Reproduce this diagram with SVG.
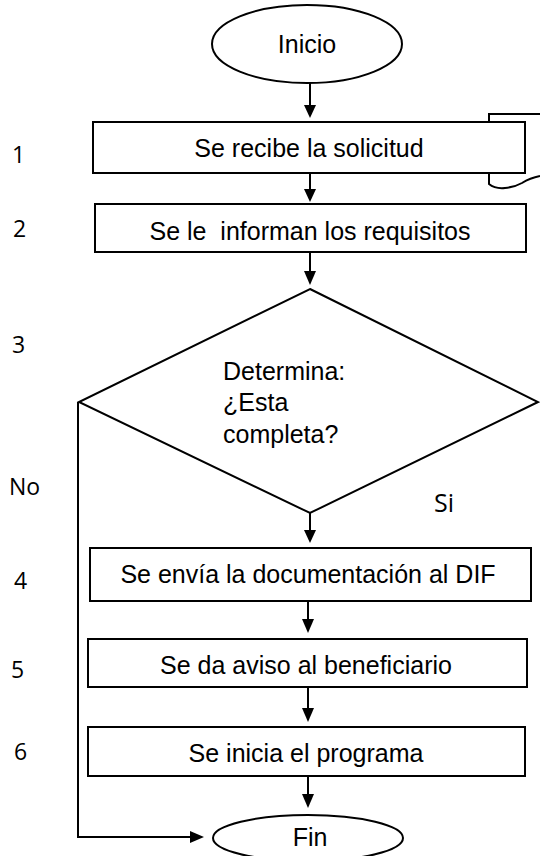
<svg xmlns="http://www.w3.org/2000/svg" width="540" height="856" viewBox="0 0 540 856">
<style>
.s{fill:#fff;stroke:#000;stroke-width:2}
.t{font-family:"Liberation Sans",Arial,sans-serif;font-size:25px;fill:#000}
.c{text-anchor:middle}
.n{font-family:"Open Sans","Noto Sans",sans-serif;font-size:23px;fill:#000}
.l{fill:none;stroke:#000;stroke-width:2}
.h{fill:#000}
</style>
<rect width="540" height="856" fill="#fff"/>
<g id="doc-bracket">
<path class="l" d="M489,122 V114 H540 M489,173 V184 Q495,189 505,188 Q515,187 522,183 Q530,178 540,176"/>
</g>
<g id="connectors">
<line class="l" x1="310" y1="83" x2="310" y2="108"/>
<polygon class="h" points="304,105 316,105 310,118"/>
<line class="l" x1="310" y1="173" x2="310" y2="192"/>
<polygon class="h" points="304,189 316,189 310,202"/>
<line class="l" x1="310" y1="252" x2="310" y2="274"/>
<polygon class="h" points="304,271 316,271 310,285"/>
<line class="l" x1="310" y1="513" x2="310" y2="533"/>
<polygon class="h" points="304,530 316,530 310,543"/>
<line class="l" x1="308" y1="601" x2="308" y2="622"/>
<polygon class="h" points="302,619 314,619 308,633"/>
<line class="l" x1="308" y1="687" x2="308" y2="710"/>
<polygon class="h" points="302,708 314,708 308,722"/>
<line class="l" x1="308" y1="776" x2="308" y2="797"/>
<polygon class="h" points="302,794 314,794 308,808"/>
<polyline class="l" points="78,402 78,837 192,837"/>
<polygon class="h" points="190,831 190,843 204,837"/>
</g>
<g id="inicio">
<ellipse class="s" cx="307" cy="44" rx="95" ry="39"/>
<text class="t c" x="307" y="53">Inicio</text>
</g>
<g id="step1">
<rect class="s" x="93" y="122" width="432" height="51"/>
<text class="t c" x="309" y="157">Se recibe la solicitud</text>
</g>
<g id="step2">
<rect class="s" x="95" y="204" width="431" height="48"/>
<text class="t c" x="310" y="240" xml:space="preserve">Se le  informan los requisitos</text>
</g>
<g id="decision">
<polygon class="s" points="310,289 538,402 310,513 79,402"/>
<text class="t" x="223" y="380">Determina:</text>
<text class="t" x="223" y="411">¿Esta</text>
<text class="t" x="223" y="443">completa?</text>
</g>
<g id="step4">
<rect class="s" x="90" y="548" width="441" height="53"/>
<text class="t c" x="308" y="583">Se envía la documentación al DIF</text>
</g>
<g id="step5">
<rect class="s" x="88" y="639" width="439" height="48"/>
<text class="t c" x="306" y="674">Se da aviso al beneficiario</text>
</g>
<g id="step6">
<rect class="s" x="88" y="727" width="437" height="49"/>
<text class="t c" x="306" y="762">Se inicia el programa</text>
</g>
<g id="fin">
<ellipse class="s" cx="308" cy="838" rx="95" ry="23"/>
<text class="t c" x="310" y="846">Fin</text>
</g>
<g id="labels">
<text class="n" x="12" y="163">1</text>
<text class="n" x="13" y="237">2</text>
<text class="n" x="12" y="353">3</text>
<text class="n" x="9" y="495">No</text>
<text class="n" x="14" y="589">4</text>
<text class="n" x="11" y="678">5</text>
<text class="n" x="14" y="760">6</text>
<text class="n" x="434" y="512" style="font-size:25px">Si</text>
</g>
</svg>
